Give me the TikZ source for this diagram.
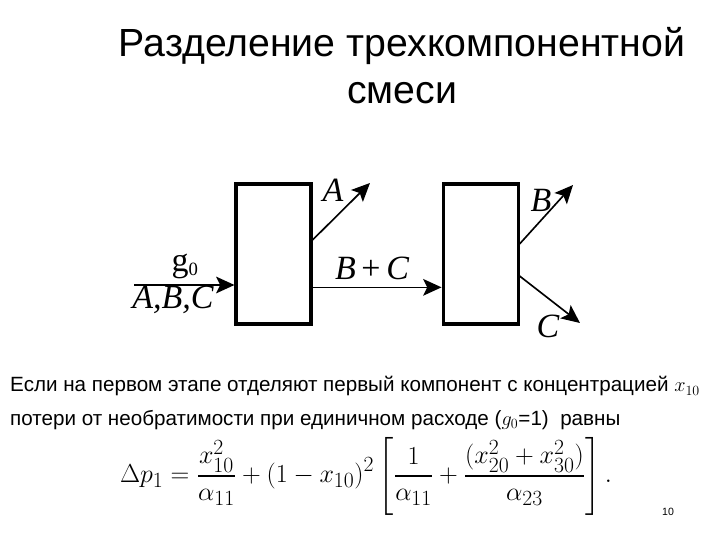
\documentclass[tikz,border=0pt]{standalone}
\usepackage{amsmath}
\usepackage{graphicx}
\usepackage{fontspec}
\setmainfont{Liberation Sans}
\newfontfamily\timesfont{Liberation Serif}
\usepackage{tikz}
\usetikzlibrary{
  arrows.meta,
  positioning
}
\tikzset{
  stage/.style={draw,line width=2.6pt,minimum width=2.25cm,
    minimum height=4.2cm,inner sep=0pt},
  flow/.style={-{Stealth[length=5.5mm,width=5mm,inset=1.2mm]},line width=1.4pt},
  streamlab/.style={font=\timesfont\itshape\fontsize{29}{30}\selectfont,inner sep=0pt},
  title/.style={font=\fontsize{33.5}{40}\selectfont,align=center},
  note/.style={font=\fontsize{17.6}{20}\selectfont,anchor=base west,inner sep=0pt}
}

\begin{document}
\begin{tikzpicture}[x=0.03cm,y=-0.03cm]
  \useasboundingbox (0,0) rectangle (720,540);
  \node[title] (head) at (402,66) {Разделение трехкомпонентной\\смеси};
  % two separation stages
  \node[stage] (st1) at (273.5,254) {};
  \node[stage,right=3.87cm of st1] (st2) {};
  \coordinate (feed) at (134,285);
  \coordinate (outA) at (370,183);
  \coordinate (outB) at (573,185);
  \coordinate (outC) at (580,323);
  \draw[flow] (feed) -- (feed -| st1.west);
  \draw[flow] ([yshift=0.42cm]st1.east) -- (outA);
  \draw[flow] ([yshift=-1cm]st1.east) -- ([yshift=-1cm]st2.west);
  \draw[flow] ([yshift=0.3cm]st2.east) -- (outB);
  \draw[flow] ([yshift=-0.66cm]st2.east) -- (outC);
  \node[streamlab,font=\timesfont\fontsize{29}{30}\selectfont] (g0) at (185,266) {g\textsubscript{\fontsize{16}{16}\selectfont 0}};
  \node[streamlab] (abc) at (173,300) {A,B,C};
  \node[streamlab] (la) at (333,190) {A};
  \node[streamlab] (lbc) at (372,268) {B\,\textup{+}\,C};
  \node[streamlab] (lb) at (541,200) {B};
  \node[streamlab] (lc) at (548,326) {C};
  % explanation and loss formula
  \node[note] (line1) at (10,392) {Если на первом этапе отделяют первый компонент с концентрацией $x_{10}$};
  \node[note] (line2) at (10,425) {потери от необратимости при единичном расходе ($g_0$=1)\ \ равны};
  \node[font=\fontsize{22.8}{27}\selectfont] (loss) at (366,476)
    {\scalebox{1.07}{$\displaystyle \Delta p_1=\frac{x_{10}^2}{\alpha_{11}}+(1-x_{10})^2
      \left[\frac{1}{\alpha_{11}}+\frac{(x_{20}^2+x_{30}^2)}{\alpha_{23}}\right].$}};
  \node[font=\fontsize{9}{10}\selectfont] (pnum) at (668,512) {10};
\end{tikzpicture}
\end{document}
